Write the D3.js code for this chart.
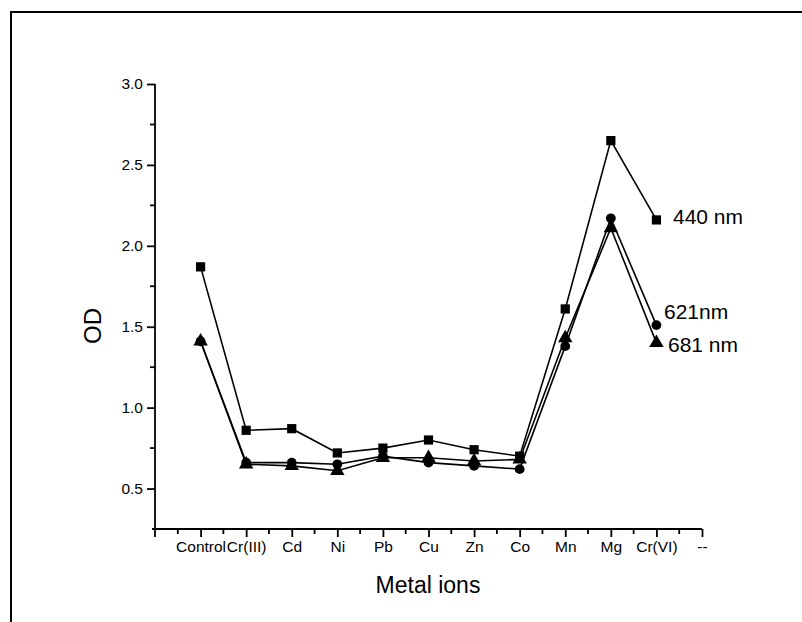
<!DOCTYPE html>
<html>
<head>
<meta charset="utf-8">
<script src="https://cdn.jsdelivr.net/npm/d3@7"></script>
<style>
  body { margin: 0; background: #fff; }
  text { font-family: Arial, "Liberation Sans", sans-serif; fill: #000; }
</style>
</head>
<body>
<div id="chart"></div>
<script>
// categories along the x axis (position 1..12)
var metals = ["Control", "Cr(III)", "Cd", "Ni", "Pb", "Cu", "Zn", "Co", "Mn", "Mg", "Cr(VI)", "--"];

// OD readings, one value per metal (first 11 categories)
var od440 = [1.87, 0.86, 0.87, 0.72, 0.75, 0.80, 0.74, 0.70, 1.61, 2.65, 2.16];
var od621 = [1.41, 0.66, 0.66, 0.65, 0.70, 0.66, 0.64, 0.62, 1.38, 2.17, 1.51];
var od681 = [1.41, 0.65, 0.64, 0.61, 0.69, 0.69, 0.67, 0.68, 1.43, 2.11, 1.40];

var yTicks = [0.5, 1.0, 1.5, 2.0, 2.5, 3.0];
var yMinor = [0.75, 1.25, 1.75, 2.25, 2.75];

var svgWidth = 802, svgHeight = 622;

var svg = d3.select("#chart").append("svg")
  .attr("width", svgWidth)
  .attr("height", svgHeight);

svg.append("rect").attr("width", svgWidth).attr("height", svgHeight).attr("fill", "#fff");

// outer frame (only top and left visible)
svg.append("path")
  .attr("d", "M11,622 V12 H802")
  .attr("fill", "none")
  .attr("stroke", "#000")
  .attr("stroke-width", 2);

// scales
var x = d3.scaleLinear().domain([0, 12]).range([155, 702]);
var y = d3.scaleLinear().domain([0.25, 3.0]).range([529, 84]);

// y axis
var yAxis = svg.append("g").attr("transform", "translate(155,0)");
yAxis.call(d3.axisLeft(y).tickValues(yTicks).tickFormat(d3.format(".1f")).tickSize(8).tickSizeOuter(0));
yAxis.attr("font-size", null).attr("font-family", null);
yAxis.select(".domain").remove();
yAxis.append("line").attr("x1", 0).attr("x2", 0).attr("y1", 84).attr("y2", 537)
  .attr("stroke", "#000").attr("stroke-width", 1.8);
yAxis.selectAll(".tick line").attr("stroke-width", 1.8);
yAxis.selectAll(".tick text").attr("x", -12).style("font-size", "15.5px");
yAxis.selectAll(".minor").data(yMinor).enter().append("line")
  .attr("x1", -5).attr("x2", 0)
  .attr("y1", d => y(d)).attr("y2", d => y(d))
  .attr("stroke", "#000").attr("stroke-width", 1.8);

// x axis
var xAxis = svg.append("g").attr("transform", "translate(0,529)");
xAxis.call(d3.axisBottom(x).tickValues(d3.range(1, 13)).tickFormat(d => metals[d - 1]).tickSize(8).tickSizeOuter(0));
xAxis.attr("font-size", null).attr("font-family", null);
xAxis.select(".domain").remove();
xAxis.append("line").attr("x1", 152).attr("x2", 702).attr("y1", 0).attr("y2", 0)
  .attr("stroke", "#000").attr("stroke-width", 1.8);
xAxis.selectAll(".tick line").attr("stroke-width", 1.8);
xAxis.selectAll(".tick text").attr("y", 12).style("font-size", "15.5px");
xAxis.selectAll(".minor").data(d3.range(0, 12)).enter().append("line")
  .attr("x1", d => x(d + 0.5)).attr("x2", d => x(d + 0.5))
  .attr("y1", 0).attr("y2", 5)
  .attr("stroke", "#000").attr("stroke-width", 1.8);

// axis titles
svg.append("text")
  .attr("transform", "translate(101,326) rotate(-90)")
  .attr("text-anchor", "middle")
  .style("font-size", "24px")
  .text("OD");

svg.append("text")
  .attr("x", 428).attr("y", 593)
  .attr("text-anchor", "middle")
  .style("font-size", "23px")
  .text("Metal ions");

// series
var series = [
  { values: od440, shape: d3.symbolSquare, size: 85, label: "440 nm", lx: 673, ly: 224 },
  { values: od621, shape: d3.symbolCircle, size: 75, label: "621nm", lx: 664, ly: 319 },
  { values: od681, shape: d3.symbolTriangle, size: 90, label: "681 nm", lx: 668, ly: 352 }
];

var line = d3.line()
  .x((d, i) => x(i + 1))
  .y(d => y(d));

series.forEach(function(s) {
  svg.append("path")
    .attr("d", line(s.values))
    .attr("fill", "none")
    .attr("stroke", "#000")
    .attr("stroke-width", 1.6);

  svg.selectAll(null).data(s.values).enter().append("path")
    .attr("transform", (d, i) => `translate(${x(i + 1)},${y(d)})`)
    .attr("d", d3.symbol().type(s.shape).size(s.size))
    .attr("fill", "#000");

  svg.append("text")
    .attr("x", s.lx).attr("y", s.ly)
    .style("font-size", "21px")
    .text(s.label);
});
</script>
</body>
</html>
